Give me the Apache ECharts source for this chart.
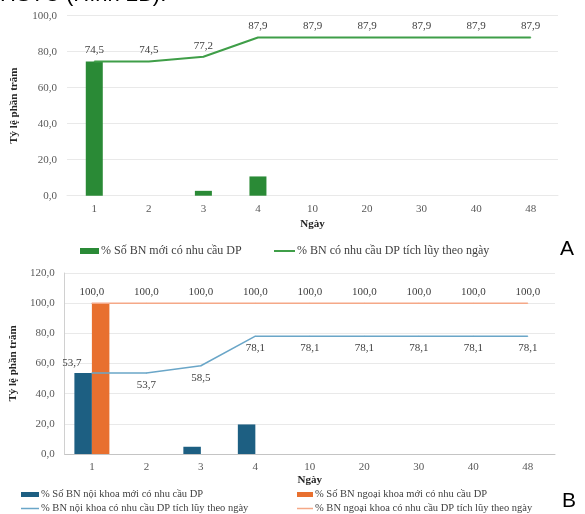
<!DOCTYPE html>
<html>
<head>
<meta charset="utf-8">
<script src="https://cdn.jsdelivr.net/npm/echarts@6/dist/echarts.min.js"></script>
<style>
  html, body { margin: 0; padding: 0; background: #fff; }
  #chart { width: 585px; height: 514px; }
</style>
</head>
<body>
<div id="chart"></div>
<script>
// Ngày theo dõi
const days = ['1', '2', '3', '4', '10', '20', '30', '40', '48'];

// Hình A: toàn bộ bệnh nhân
const newAll = [74.5, 0, 2.7, 10.7, 0, 0, 0, 0, 0];
const cumAll = [74.5, 74.5, 77.2, 87.9, 87.9, 87.9, 87.9, 87.9, 87.9];

// Hình B: nội khoa / ngoại khoa
const newInternal = [53.7, 0, 4.8, 19.6, 0, 0, 0, 0, 0];
const newSurgical = [100, 0, 0, 0, 0, 0, 0, 0, 0];
const cumInternal = [53.7, 53.7, 58.5, 78.1, 78.1, 78.1, 78.1, 78.1, 78.1];
const cumSurgical = [100, 100, 100, 100, 100, 100, 100, 100, 100];

const yTicksA = { min: 0, max: 100, interval: 20 };
const yTicksB = { min: 0, max: 120, interval: 20 };

const SERIF = '"Liberation Serif", "DejaVu Serif", serif';
const fmt = v => Number(v).toFixed(1).replace('.', ',');

const names = {
  newAll: '% Số BN mới có nhu cầu DP',
  cumAll: '% BN có nhu cầu DP tích lũy theo ngày',
  newInt: '% Số BN nội khoa mới có nhu cầu DP',
  cumInt: '% BN nội khoa có nhu cầu DP tích lũy theo ngày',
  newSur: '% Số BN ngoại khoa mới có nhu cầu DP',
  cumSur: '% BN ngoại khoa có nhu cầu DP tích lũy theo ngày'
};

const colors = {
  green: '#2a8a36', greenLine: '#3f9e48',
  blue: '#1d5f82', blueLine: '#6aa6c8',
  orange: '#e8702f', orangeLine: '#f5a887'
};

const axisLabel = { fontFamily: SERIF, fontSize: 11, color: '#595959' };
const gridLine = { show: true, lineStyle: { color: '#e9e9e9', width: 1 } };

function xAxis(gridIndex, nameGap, lineColor) {
  return {
    type: 'category', gridIndex, data: days,
    axisTick: { show: false },
    axisLine: { show: true, lineStyle: { color: lineColor, width: 1 } },
    axisLabel: Object.assign({ margin: 8 }, axisLabel),
    name: 'Ngày', nameLocation: 'middle', nameGap,
    nameTextStyle: { fontFamily: SERIF, fontSize: 11, fontWeight: 'bold', color: '#262626' }
  };
}

function yAxis(gridIndex, ticks, nameGap, showLine) {
  return Object.assign({
    type: 'value', gridIndex,
    axisLine: { show: showLine, lineStyle: { color: '#d0d0d0' } },
    axisTick: { show: false },
    splitLine: gridLine,
    axisLabel: Object.assign({ margin: 10, formatter: fmt }, axisLabel),
    name: 'Tỷ lệ phần trăm', nameLocation: 'middle', nameGap, nameRotate: 90,
    nameTextStyle: { fontFamily: SERIF, fontSize: 11, fontWeight: 'bold', color: '#262626' }
  }, ticks);
}

const lineLabel = (pos, dist) => ({
  show: true, position: pos, distance: dist,
  fontFamily: SERIF, fontSize: 11, color: '#404040', formatter: p => fmt(p.value)
});

function legend(name, left, top, icon, w, h, fontSize) {
  return {
    data: [name], left, top, icon, itemWidth: w, itemHeight: h, itemGap: 0,
    selectedMode: false, padding: 0,
    textStyle: { fontFamily: SERIF, fontSize, color: '#404040', padding: [0, 0, 0, -3] }
  };
}

const lineIcon = 'rect';

// the first point's label sits up and to the left of the point
const cumInternalData = cumInternal.map((v, i) => i === 0
  ? { value: v, label: { position: 'top', distance: 3, offset: [-20, -1] } }
  : v);

const chart = echarts.init(document.getElementById('chart'), null, { renderer: 'canvas' });
chart.setOption({
  animation: false,
  backgroundColor: '#fff',
  grid: [
    { left: 67, right: 27, top: 15.7, height: 180 },
    { left: 60, right: 30, top: 273, height: 181 }
  ],
  xAxis: [xAxis(0, 23, '#e9e9e9'), xAxis(1, 21, '#c4c4c4')],
  yAxis: [yAxis(0, yTicksA, 47, false), yAxis(1, yTicksB, 43, true)],
  legend: [
    legend(names.newAll, 80, 245, 'rect', 19, 6, 12),
    legend(names.cumAll, 274, 245, lineIcon, 21, 2, 12),
    legend(names.newInt, 21, 489, 'rect', 18, 5, 10.5),
    legend(names.cumInt, 21, 503, lineIcon, 18, 1.5, 10.5),
    legend(names.newSur, 297, 489, 'rect', 16, 5, 10.5),
    legend(names.cumSur, 297, 503, lineIcon, 16, 1.5, 10.5)
  ],
  graphic: [
    { type: 'text', left: 0, top: -16,
      style: { text: 'HSTC (Hình 2B).', fontFamily: '"Liberation Sans", Arial, sans-serif', fontSize: 22, fill: '#000' } },
    { type: 'text', left: 560, top: 239,
      style: { text: 'A', fontFamily: '"Liberation Sans", Arial, sans-serif', fontSize: 21, fill: '#000' } },
    { type: 'text', left: 562, top: 491,
      style: { text: 'B', fontFamily: '"Liberation Sans", Arial, sans-serif', fontSize: 21, fill: '#000' } }
  ],
  series: [
    { name: names.newAll, type: 'bar', xAxisIndex: 0, yAxisIndex: 0, data: newAll,
      barWidth: 17, itemStyle: { color: colors.green } },
    { name: names.cumAll, type: 'line', xAxisIndex: 0, yAxisIndex: 0, data: cumAll,
      symbol: 'circle', symbolSize: 1, itemStyle: { color: colors.greenLine },
      lineStyle: { color: colors.greenLine, width: 2 }, label: lineLabel('top', 5), z: 3 },

    { name: names.newInt, type: 'bar', xAxisIndex: 1, yAxisIndex: 1, data: newInternal,
      barWidth: 17.5, barGap: '0%', itemStyle: { color: colors.blue } },
    { name: names.newSur, type: 'bar', xAxisIndex: 1, yAxisIndex: 1, data: newSurgical,
      barWidth: 17.5, barGap: '0%', itemStyle: { color: colors.orange } },
    { name: names.cumInt, type: 'line', xAxisIndex: 1, yAxisIndex: 1, data: cumInternalData,
      symbol: 'circle', symbolSize: 1, itemStyle: { color: colors.blueLine },
      lineStyle: { color: colors.blueLine, width: 1.5 }, label: lineLabel('bottom', 6), z: 3 },
    { name: names.cumSur, type: 'line', xAxisIndex: 1, yAxisIndex: 1, data: cumSurgical,
      symbol: 'circle', symbolSize: 1, itemStyle: { color: colors.orangeLine },
      lineStyle: { color: colors.orangeLine, width: 1.5 }, label: lineLabel('top', 5), z: 3 }
  ]
});
</script>
</body>
</html>
